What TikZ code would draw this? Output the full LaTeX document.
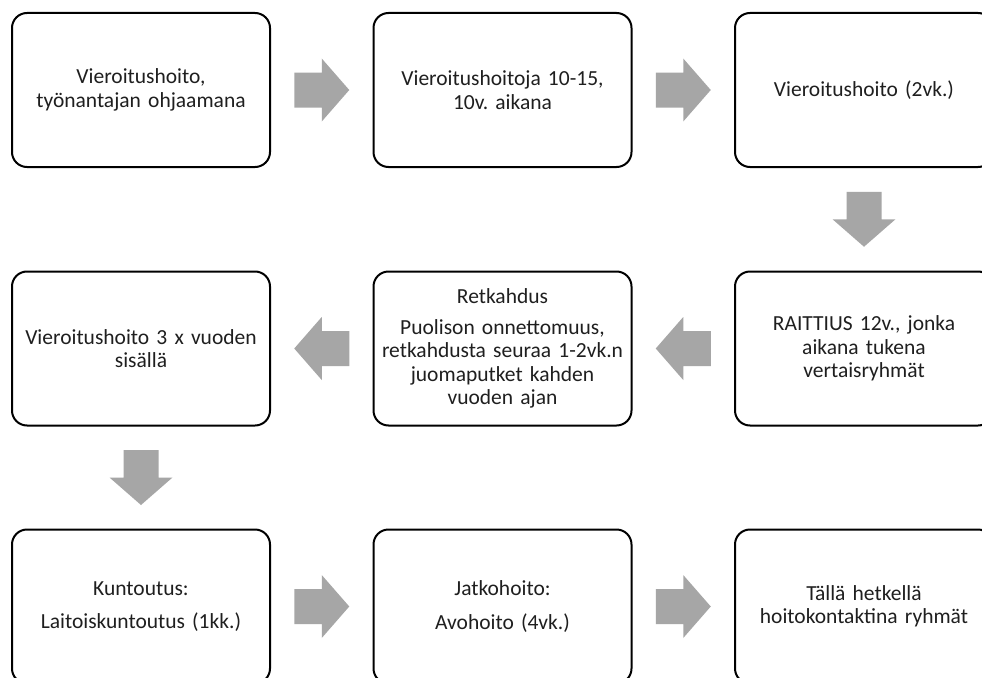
\documentclass[tikz,border=0pt]{standalone}
\usepackage{fontspec}
\setmainfont{Carlito}
\frenchspacing
\usetikzlibrary{calc}
\definecolor{arrowgray}{HTML}{A6A6A6}
\definecolor{textdark}{HTML}{1F1F1F}
\tikzset{
  stepbox/.style={draw=black, line width=2pt, rounded corners=15pt, fill=white,
    minimum width=258pt, minimum height=154pt, align=center, text width=250pt,
    text=textdark, font=\fontsize{21.5}{23.5}\selectfont, inner sep=0pt},
  blockarrow/.pic={\fill[arrowgray] (-27.5,-17.5) -- (0,-17.5) -- (0,-31.5) -- (27.5,0) -- (0,31.5) -- (0,17.5) -- (-27.5,17.5) -- cycle;}
}
\begin{document}
\begin{tikzpicture}[x=1pt,y=-1pt]
\useasboundingbox (0,0) rectangle (982,677);
\clip (0,0) rectangle (982,677);
\fill[white] (0,0) rectangle (982,677);
% row 1
\node[stepbox] (b1) at (141,90) {Vieroitushoito,\\työnantajan ohjaamana};
\node[stepbox] (b2) at (502.5,90) {Vieroitushoitoja 10-15,\\10v. aikana};
\node[stepbox] (b3) at (864,90) {Vieroitushoito (2vk.)};
% row 2
\node[stepbox] (b4) at (864,348.5) {RAITTIUS 12v., jonka\\aikana tukena\\vertaisryhmät};
\node[stepbox] (b5) at (502.5,348.5) {Retkahdus\\[7pt]Puolison onnettomuus,\\retkahdusta seuraa 1-2vk.n\\juomaputket kahden\\vuoden ajan};
\node[stepbox] (b6) at (141,348.5) {Vieroitushoito 3 x vuoden\\sisällä};
% row 3
\node[stepbox] (b7) at (141,606.5) {Kuntoutus:\\[10pt]Laitoiskuntoutus (1kk.)};
\node[stepbox] (b8) at (502.5,606.5) {Jatkohoito:\\[10pt]Avohoito (4vk.)};
\node[stepbox] (b9) at (864,606.5) {Tällä hetkellä\\hoitokontaktina ryhmät};
% arrow anchors
\coordinate (m12) at ($(b1.east)!0.5!(b2.west)$);
\coordinate (m23) at ($(b2.east)!0.5!(b3.west)$);
\coordinate (m34) at ($(b3.south)!0.5!(b4.north)$);
\coordinate (m45) at ($(b4.west)!0.5!(b5.east)$);
\coordinate (m56) at ($(b5.west)!0.5!(b6.east)$);
\coordinate (m67) at ($(b6.south)!0.5!(b7.north)$);
\coordinate (m78) at ($(b7.east)!0.5!(b8.west)$);
\coordinate (m89) at ($(b8.east)!0.5!(b9.west)$);
\pic at (m12) {blockarrow};
\pic at (m23) {blockarrow};
\pic[rotate=-90] at (m34) {blockarrow};
\pic[rotate=180] at (m45) {blockarrow};
\pic[rotate=180] at (m56) {blockarrow};
\pic[rotate=-90] at (m67) {blockarrow};
\pic at (m78) {blockarrow};
\pic at (m89) {blockarrow};
\end{tikzpicture}
\end{document}
